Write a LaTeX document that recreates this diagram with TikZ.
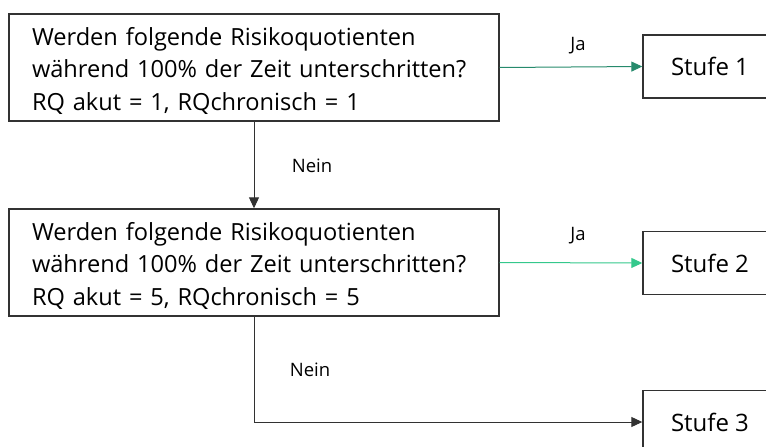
\documentclass[tikz,border=0pt]{standalone}
\usepackage{fontspec}
\setmainfont{Open Sans}
\usetikzlibrary{arrows.meta,positioning}
\definecolor{jaA}{RGB}{38,138,108}
\definecolor{jaB}{RGB}{52,200,140}
\definecolor{edge}{RGB}{50,50,50}
\tikzset{
  question/.style={draw=edge, line width=1.4pt, rectangle, minimum width=490pt, minimum height=107pt,
    inner sep=0pt},
  qtext/.style={text width=444pt, align=left, inner sep=0pt, yshift=-3pt,
    font=\fontsize{23.6}{32.5}\selectfont},
  stage/.style={draw=edge, line width=1.4pt, rectangle, minimum width=134pt, minimum height=63pt,
    inner sep=0pt, font=\fontsize{24}{28}\selectfont},
  flow/.style={line width=1pt, -{Triangle[length=11pt,width=10pt]}},
  lbl/.style={font=\fontsize{18.5}{22}\selectfont, inner sep=0pt}
}
\begin{document}
\begin{tikzpicture}[x=1pt,y=-1pt]
\clip (0,0) rectangle (766,447);
\useasboundingbox (0,0) rectangle (766,447);

% decision boxes and their questions
\node[question] (q1) at (254,67.5) {};
\node[qtext] (q1t) at (q1.center) {Werden folgende Risikoquotienten\\während 100\% der Zeit unterschritten?\\RQ akut = 1, RQchronisch = 1};
\node[question] (q2) at (254,262.5) {};
\node[qtext] (q2t) at (q2.center) {Werden folgende Risikoquotienten\\während 100\% der Zeit unterschritten?\\RQ akut = 5, RQchronisch = 5};

% outcome stages
\node[stage] (s1) at (710,66.5) {Stufe 1};
\node[stage] (s2) at (710,263) {Stufe 2};
\node[stage] (s3) at (710,422) {Stufe 3};

% connectors
\draw[flow, draw=jaA] (q1.east) -- (s1.west);
\draw[flow, draw=jaB] (q2.east) -- (s2.west);
\draw[flow, draw=edge] (q1.south) -- (q2.north);
\draw[flow, draw=edge] (q2.south) |- (s3.west);

\node[lbl] (ja1) at (578,46) {Ja};
\node[lbl] (ja2) at (578,236) {Ja};
\node[lbl] (nein1) at (312,166) {Nein};
\node[lbl] (nein2) at (310,370) {Nein};
\end{tikzpicture}
\end{document}
